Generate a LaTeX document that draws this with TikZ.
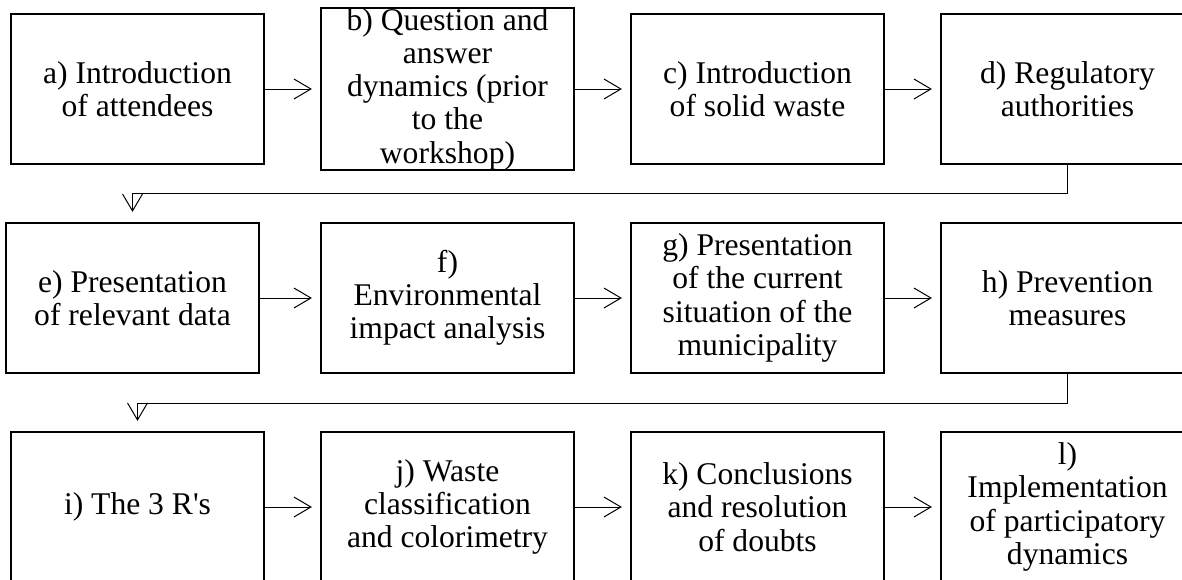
\documentclass[tikz,border=0pt]{standalone}
\usepackage{fontspec}
\setmainfont{Liberation Serif}[Ligatures=TeXOff]
\usetikzlibrary{arrows.meta}
\begin{document}
\begin{tikzpicture}[x=0.5pt,y=-0.5pt,
    stage/.style={draw,line width=1.1pt,minimum width=126.5pt,minimum height=75pt,
      inner sep=0pt,align=center,font=\fontsize{15.8}{16.6}\selectfont},
    flow/.style={line width=0.5pt,shorten >=4pt,
      -{Straight Barb[length=8.5pt,width=10pt,line width=0.5pt]}}]
  \useasboundingbox (0,0) rectangle (1182,579);
  \clip (0,0) rectangle (1182,579);
  \draw
    (137.5,89) node[stage] (a){a) Introduction\\of attendees}
    (447.5,89) node[stage] (b){b) Question and\\answer\\dynamics (prior\\to the\\workshop)}
    (757.5,89) node[stage] (c){c) Introduction\\of solid waste}
    (1067.5,89) node[stage] (d){d) Regulatory\\authorities}
    (132.5,298) node[stage] (e){e) Presentation\\of relevant data}
    (447.5,298) node[stage] (f){f)\\Environmental\\impact analysis}
    (757.5,298) node[stage] (g){g) Presentation\\of the current\\situation of the\\municipality}
    (1067.5,298) node[stage] (h){h) Prevention\\measures}
    (137.5,507) node[stage] (i){i) The 3 R's}
    (447.5,507) node[stage] (j){j) Waste\\classification\\and colorimetry}
    (757.5,507) node[stage] (k){k) Conclusions\\and resolution\\of doubts}
    (1067.5,507) node[stage] (l){l)\\Implementation\\of participatory\\dynamics};
  \coordinate (dturn) at (1067.5,193);
  \coordinate (hturn) at (1067.5,403);
  \begin{scope}[flow]
    \draw (a) to (b);
    \draw (b) to (c);
    \draw (c) to (d);
    \draw[shorten >=5pt] (d.south) -- (dturn) -| (e.north);
    \draw (e) to (f);
    \draw (f) to (g);
    \draw (g) to (h);
    \draw[shorten >=5pt] (h.south) -- (hturn) -| (i.north);
    \draw (i) to (j);
    \draw (j) to (k);
    \draw (k) to (l);
  \end{scope}
\end{tikzpicture}
\end{document}
